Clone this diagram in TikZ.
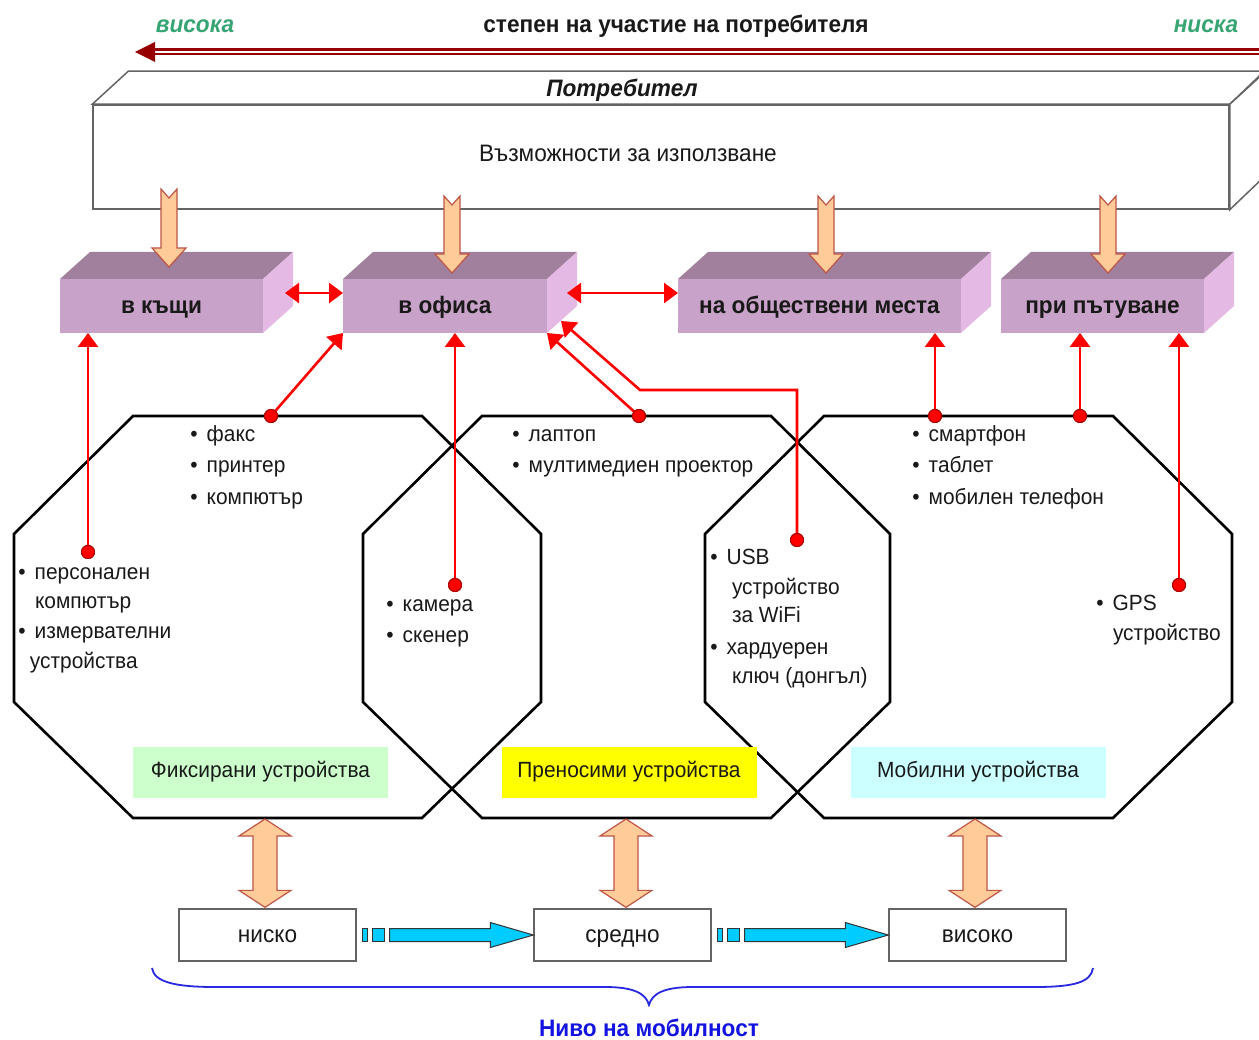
\documentclass[tikz,border=0pt]{standalone}
\usepackage{fontspec}
\setmainfont{Liberation Sans}[FakeStretch=0.95]
\usetikzlibrary{arrows.meta,calc}
\definecolor{pfrontc}{RGB}{200,162,200}
\definecolor{ptopc}{RGB}{160,128,156}
\definecolor{psidec}{RGB}{228,186,228}
\definecolor{peachc}{RGB}{255,204,153}
\definecolor{peachline}{RGB}{190,85,70}
\definecolor{darkredc}{RGB}{150,0,0}
\definecolor{dotline}{RGB}{170,0,0}
\definecolor{greentxt}{RGB}{55,165,115}
\definecolor{lgreen}{RGB}{204,255,204}
\definecolor{lyellow}{RGB}{255,255,0}
\definecolor{lcyan}{RGB}{204,255,255}
\definecolor{cyanarr}{RGB}{0,204,255}
\definecolor{bracec}{RGB}{40,40,225}
\definecolor{bluetxt}{RGB}{20,20,225}
\definecolor{txtc}{RGB}{25,25,25}
\definecolor{boxline}{RGB}{100,100,100}
\newcommand\peachdown[2]{%
  \filldraw[peach] ($(#1)+(-8,0)$) -- ($(#1)+(0,9)$) -- ($(#1)+(8,0)$) -- ($(#2)+(8,-19)$) -- ($(#2)+(17,-19)$) -- (#2) -- ($(#2)+(-17,-19)$) -- ($(#2)+(-8,-19)$) -- cycle;}
\newcommand\peachboth[2]{%
  \filldraw[peach] (#1) -- ($(#1)+(26,17)$) -- ($(#1)+(12,17)$) -- ($(#2)+(12,-17)$) -- ($(#2)+(26,-17)$) -- (#2) -- ($(#2)+(-26,-17)$) -- ($(#2)+(-12,-17)$) -- ($(#1)+(-12,17)$) -- ($(#1)+(-26,17)$) -- cycle;}
\newcommand\cyanarrow[2]{%
  \filldraw[cyanstyle] ($(#1)+(6,-6.5)$) rectangle ($(#1)+(11,6.5)$);
  \filldraw[cyanstyle] ($(#1)+(16,-6.5)$) rectangle ($(#1)+(28,6.5)$);
  \filldraw[cyanstyle] ($(#1)+(33,-6.5)$) -- ($(#2)+(-43,-6.5)$) -- ($(#2)+(-43,-12.5)$) -- (#2) -- ($(#2)+(-43,12.5)$) -- ($(#2)+(-43,6.5)$) -- ($(#1)+(33,6.5)$) -- cycle;}
\newcommand\octa[1]{%
  \draw[octline] (#1+119,416) -- (#1+408,416) -- (#1+527,534) -- (#1+527,702) -- (#1+408,818) -- (#1+119,818) -- (#1,702) -- (#1,534) -- cycle;}
\newcommand\pbox[4]{%
  \node[pfront, minimum width=#3] (#1) at (#2,306) {#4};
  \fill[ptopc] (#1.north west) -- ++(30,-27) -- ++(#3,0) -- (#1.north east) -- cycle;
  \fill[psidec] (#1.north east) -- ++(30,-27) -- ++(0,54) -- (#1.south east) -- cycle;}
\newcommand\bl[4]{\node[txt,anchor=base west] (#1) at (#2-3.6,#3+7) {•\hspace{9pt}#4};}
\newcommand\tl[4]{\node[txt,anchor=base west] (#1) at (#2,#3+7) {#4};}
\begin{document}
\begin{tikzpicture}[x=1pt,y=-1pt,
  fixh/.style={text height=20pt,text depth=5pt},
  fixl/.style={text height=18pt,text depth=8pt},
  big/.style={font=\fontsize{23.8}{28}\selectfont},
  bigb/.style={font=\fontsize{23.8}{28}\selectfont\bfseries},
  bigbi/.style={font=\fontsize{23.8}{28}\selectfont\bfseries\itshape},
  txt/.style={inner sep=0pt,outer sep=0pt,text=txtc,font=\fontsize{22}{26}\selectfont},
  pfront/.style={fill=pfrontc,minimum height=54,inner sep=0pt,outer sep=0pt,bigb,fixh,text=txtc},
  peach/.style={fill=peachc,draw=peachline,line width=1.2pt,line join=miter},
  cyanstyle/.style={fill=cyanarr,draw=black!80,line width=1pt},
  octline/.style={draw=black,line width=2.6pt,line join=miter},
  redarr/.style={draw=red,line width=2.6pt,-{Triangle[length=14pt,width=20pt]}},
  redboth/.style={draw=red,line width=2.6pt,{Triangle[length=14pt,width=20pt]}-{Triangle[length=14pt,width=20pt]}},
  rdot/.style={circle,fill=red,draw=dotline,line width=1pt,minimum size=13pt,inner sep=0pt},
  legend/.style={minimum width=255,minimum height=51,inner sep=0pt,font=\fontsize{22}{26}\selectfont,fixl,text=txtc},
  lvl/.style={draw=boxline,fill=white,line width=1.3pt,minimum width=177,minimum height=52,inner sep=0pt,big,fixh,text=txtc}
]
\useasboundingbox (0,0) rectangle (1259,1040);
\fill[white] (0,0) rectangle (1259,1040);

% header
\node[inner sep=0pt,bigb,fixh,text=txtc] (title) at (676,25) {степен на участие на потребителя};
\node[inner sep=0pt,bigbi,fixh,text=greentxt] (hi) at (195,25) {висока};
\node[inner sep=0pt,bigbi,fixh,text=greentxt] (lo) at (1206,25) {ниска};
\coordinate (arrtip) at (135,52);
\coordinate (arrend) at (1262,52);
\draw[darkredc,line width=7pt] ($(arrtip)+(18,0)$) -- (arrend);
\draw[white,line width=1.6pt] ($(arrtip)+(18,0)$) -- (arrend);
\fill[darkredc] (arrtip) -- ++(20,-10) -- ++(0,20) -- cycle;

% user box
\node[draw=boxline,fill=white,line width=1.5pt,minimum width=1136,minimum height=104,inner sep=0pt] (user) at (661,157) {};
\filldraw[draw=boxline,fill=white,line width=1.5pt] (user.north west) -- ++(36,-33) -- ++(1136,0) -- (user.north east) -- cycle;
\filldraw[draw=boxline,fill=white,line width=1.5pt] (user.north east) -- ++(36,-33) -- ++(0,104) -- (user.south east) -- cycle;
\node[inner sep=0pt,bigbi,fixh,text=txtc] (usertitle) at (622,89) {Потребител};
\node[inner sep=0pt,big,fixh,text=txtc] (usage) at (628,154) {Възможности за използване};

% purple boxes
\pbox{home}{161.5}{203}{в къщи}
\pbox{office}{445}{204}{в офиса}
\pbox{public}{819.5}{283}{на обществени места}
\pbox{travel}{1102.5}{203}{при пътуване}

% peach arrows from user box
\coordinate (u1) at (169,189); \coordinate (t1) at (169,267);
\coordinate (u2) at (452,196); \coordinate (t2) at (452,273);
\coordinate (u3) at (826,196); \coordinate (t3) at (826,273);
\coordinate (u4) at (1108,196); \coordinate (t4) at (1108,273);
\peachdown{u1}{t1}
\peachdown{u2}{t2}
\peachdown{u3}{t3}
\peachdown{u4}{t4}

% octagons
\octa{14}
\octa{363}
\octa{705}

% legend boxes
\node[legend,fill=lgreen] (fixed) at (260.5,772.5) {Фиксирани устройства};
\node[legend,fill=lyellow] (portable) at (629,772.5) {Преносими устройства};
\node[legend,fill=lcyan] (mobile) at (978,772.5) {Мобилни устройства};

% horizontal red arrows between boxes
\coordinate (hr1) at (285,293);
\coordinate (hr2) at (567,293);
\draw[redboth] (hr1) -- (hr1 -| office.west);
\draw[redboth] (hr2) -- (hr2 -| public.west);

% red connectors
\node[rdot] (d1) at (88,552) {};
\node[rdot] (d2) at (271,416) {};
\node[rdot] (d3) at (455,585) {};
\node[rdot] (d4) at (639,416) {};
\node[rdot] (d5) at (797,540) {};
\node[rdot] (d6) at (935,416) {};
\node[rdot] (d7) at (1080,416) {};
\node[rdot] (d8) at (1179,585) {};
\coordinate (bend1) at (797,390);
\coordinate (bend2) at (640,390);
\coordinate (offR) at (561,321);
\draw[redarr] (d1.center) -- (d1.center |- home.south);
\draw[redarr] (d2.center) -- (office.south west);
\draw[redarr] (d3.center) -- (d3.center |- office.south);
\draw[redarr] (d4.center) -- (office.south east);
\draw[redarr] (d5.center) -- (bend1) -- (bend2) -- (offR);
\draw[redarr] (d6.center) -- (d6.center |- public.south);
\draw[redarr] (d7.center) -- (d7.center |- travel.south);
\draw[redarr] (d8.center) -- (d8.center |- travel.south);
\node[rdot] (e1) at (d1) {};
\node[rdot] (e2) at (d2) {};
\node[rdot] (e3) at (d3) {};
\node[rdot] (e4) at (d4) {};
\node[rdot] (e5) at (d5) {};
\node[rdot] (e6) at (d6) {};
\node[rdot] (e7) at (d7) {};
\node[rdot] (e8) at (d8) {};

% texts in octagons
\bl{fax}{194}{435}{факс}
\bl{printer}{194}{466}{принтер}
\bl{computer}{194}{497}{компютър}
\bl{pc}{22}{572}{персонален}
\tl{pc2}{35}{601}{компютър}
\bl{meas}{22}{631}{измервателни}
\tl{meas2}{30}{661}{устройства}
\bl{camera}{390}{604}{камера}
\bl{scanner}{390}{635}{скенер}
\bl{laptop}{516}{435}{лаптоп}
\bl{projector}{516}{466}{мултимедиен проектор}
\bl{usb}{714}{557}{USB}
\tl{usb2}{732}{587}{устройство}
\tl{usb3}{732}{615}{за WiFi}
\bl{dongle}{714}{647}{хардуерен}
\tl{dongle2}{732}{676}{ключ (донгъл)}
\bl{smart}{916}{435}{смартфон}
\bl{tablet}{916}{466}{таблет}
\bl{phone}{916}{497}{мобилен телефон}
\bl{gps}{1100}{603}{GPS}
\tl{gps2}{1113}{633}{устройство}

% mobility levels
\node[lvl] (low) at (267.5,935) {ниско};
\node[lvl] (mid) at (622.5,935) {средно};
\node[lvl] (high) at (977.5,935) {високо};
\coordinate (ob1) at (265,819);
\coordinate (ob2) at (626,819);
\coordinate (ob3) at (975,819);
\peachboth{ob1}{$(ob1 |- low.north)+(0,-1)$}
\peachboth{ob2}{$(ob2 |- mid.north)+(0,-1)$}
\peachboth{ob3}{$(ob3 |- high.north)+(0,-1)$}
\cyanarrow{low.east}{mid.west}
\cyanarrow{mid.east}{high.west}

% brace
\coordinate (brL) at (152,968);
\coordinate (brR) at (1093,968);
\coordinate (brTip) at (649,1005);
\draw[bracec,line width=1.8pt] (brL) .. controls (154,982) and (175,987) .. (215,987) -- (605,987) .. controls (635,987) and (646,994) .. (brTip) .. controls (652,994) and (663,987) .. (693,987) -- (1035,987) .. controls (1075,987) and (1091,982) .. (brR);
\node[inner sep=0pt,bigb,fixh,text=bluetxt] (mobility) at (649,1029) {Ниво на мобилност};
\end{tikzpicture}
\end{document}
